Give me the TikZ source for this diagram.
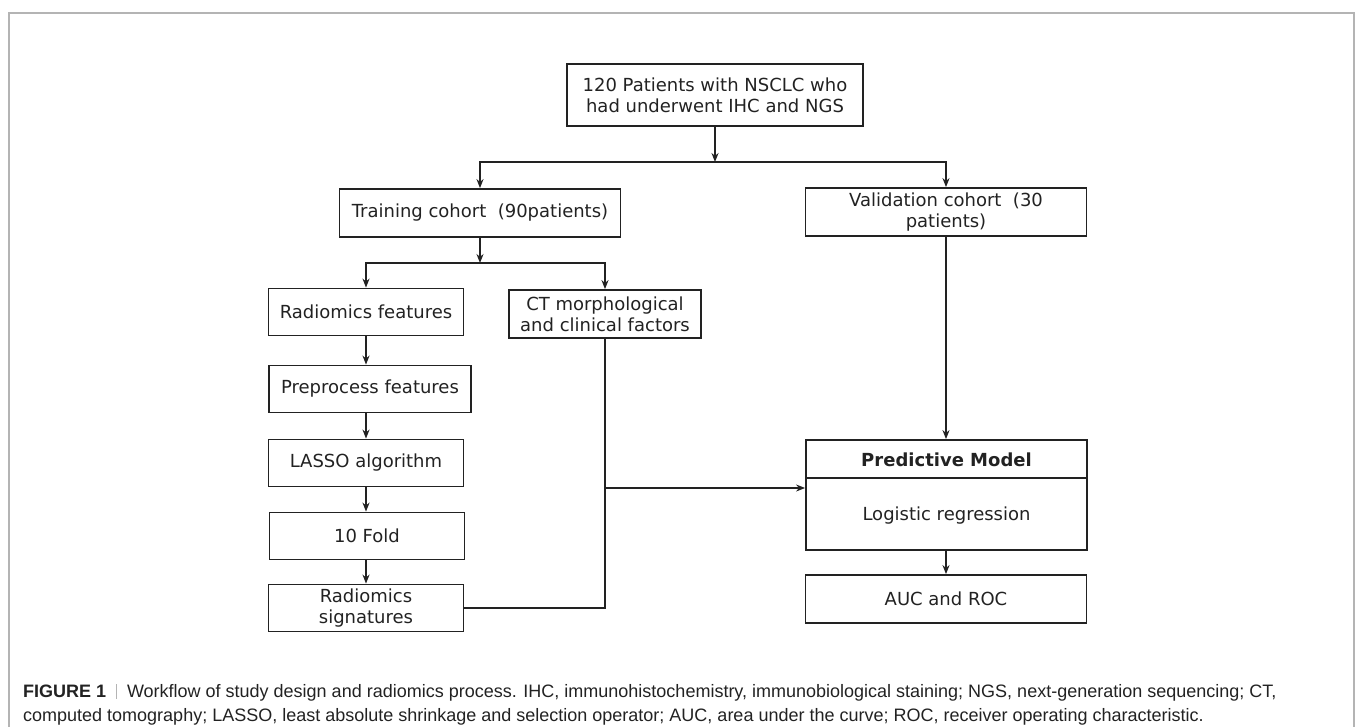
\documentclass[tikz,border=0pt]{standalone}
\usepackage{fontspec}
\setmainfont{DejaVu Sans}
\newfontfamily\capfont{Liberation Sans}
\usetikzlibrary{arrows.meta}
\definecolor{ln}{HTML}{222222}
\definecolor{frm}{HTML}{B4B4B4}
\tikzset{
  box/.style={draw=ln, line width=1.8pt, rectangle, inner sep=0pt, align=center,
              font=\fontsize{18}{21}\selectfont, text=ln},
  arr/.style={draw=ln, line width=1.8pt, -{Stealth[length=9pt,width=7pt]}},
  ln/.style={draw=ln, line width=1.8pt},
}
\begin{document}
\begin{tikzpicture}[x=1pt,y=-1pt]
\useasboundingbox (0,0) rectangle (1355,727);
\draw[frm, line width=1.8pt] (9,727) -- (9,13) -- (1354,13) -- (1354,727);

\node[box, minimum width=296pt, minimum height=62pt] (top) at (715,95) {120 Patients with NSCLC who\\had underwent IHC and NGS};
\node[box, minimum width=281pt, minimum height=48pt] (train) at (480,213) {Training cohort\ \ (90patients)};
\node[box, minimum width=281pt, minimum height=48pt] (valid) at (946,212) {Validation cohort\ \ (30\\patients)};
\node[box, minimum width=195pt, minimum height=47pt] (radf) at (366,312) {Radiomics features};
\node[box, minimum width=192pt, minimum height=48pt] (ct) at (605,314) {CT morphological\\and clinical factors};
\node[box, minimum width=202pt, minimum height=47pt] (prep) at (370,389) {Preprocess features};
\node[box, minimum width=195pt, minimum height=47pt] (lasso) at (366,463) {LASSO algorithm};
\node[box, minimum width=195pt, minimum height=47pt] (fold) at (367,536) {10 Fold};
\node[box, minimum width=195pt, minimum height=47pt] (rsig) at (366,608) {Radiomics\\signatures};
\node[box, minimum width=281pt, minimum height=110pt] (pred) at (946.5,495) {};
\node[box, draw=none, font=\fontsize{18}{21}\selectfont\bfseries] (predt) at (946.5,460) {Predictive Model};
\node[box, draw=none] (logr) at (946.5,516) {Logistic regression};
\node[box, minimum width=281pt, minimum height=48pt] (auc) at (946,599) {AUC and ROC};

\coordinate (dl) at (806,478);
\coordinate (dr) at (1087,478);
\draw[ln] (dl) -- (dr);

\coordinate (j1) at (715,162);
\draw[arr] (top.south) -- (j1);
\draw[arr] (j1) -| (train.north);
\draw[arr] (j1) -| (valid.north);

\coordinate (j2) at (480,263);
\draw[arr] (train.south) -- (j2);
\draw[arr] (j2) -| (radf.north);
\draw[arr] (j2) -| (ct.north);

\draw[arr] (radf.south) -- (radf.south |- prep.north);
\draw[arr] (radf.south |- prep.south) -- (lasso.north);
\draw[arr] (lasso.south) -- (lasso.south |- fold.north);
\draw[arr] (lasso.south |- fold.south) -- (lasso.south |- rsig.north);

\coordinate (j3) at (605,608);
\draw[ln] (ct.south) -- (j3) -- (rsig.east);
\coordinate (j4) at (605,488);
\draw[arr] (j4) -- (j4 -| pred.west);

\draw[arr] (valid.south) -- (valid.south |- pred.north);
\draw[arr] (auc.north |- pred.south) -- (auc.north);

\node[anchor=base west, inner sep=0pt, font=\capfont\fontsize{18}{24}\selectfont, text=ln] (cap1) at (23,697)
  {\textbf{FIGURE 1}\ \ {\color{frm}\rule[-1.5pt]{0.8pt}{15pt}}\ \ Workflow of study design and radiomics process. IHC, immunohistochemistry, immunobiological staining; NGS, next-generation sequencing; CT,};
\node[anchor=base west, inner sep=0pt, font=\capfont\fontsize{18}{24}\selectfont, text=ln] (cap2) at (23,721)
  {computed tomography; LASSO, least absolute shrinkage and selection operator; AUC, area under the curve; ROC, receiver operating characteristic.};
\end{tikzpicture}
\end{document}
